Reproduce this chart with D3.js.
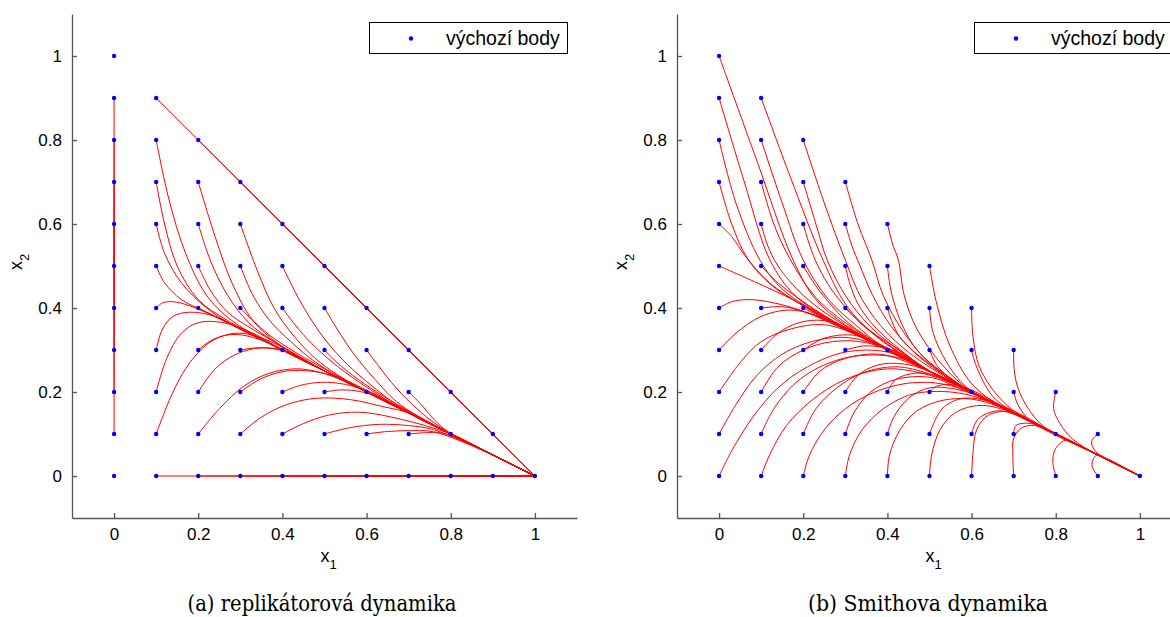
<!DOCTYPE html>
<html>
<head>
<meta charset="utf-8">
<script src="https://cdn.jsdelivr.net/npm/d3@7"></script>
<style>
  body { margin: 0; background: #fff; }
  svg { display: block; }
</style>
</head>
<body>
<div class="chart"></div>
<script>
// tick values and labels (both axes, both panels)
const tickValues = [0, 0.2, 0.4, 0.6, 0.8, 1];
const tickLabels = ["0", "0.2", "0.4", "0.6", "0.8", "1"];
const legendLabel = "výchozí body";
const captions = ["(a) replikátorová dynamika", "(b) Smithova dynamika"];

// common path the trajectories run into (x1, x2)
const replicatorPath = [[0.3,0.35],[0.4,0.3],[0.5,0.25],[0.6,0.2],[0.7,0.15],[0.8,0.1],[0.9,0.05],[1,0]];
const smithPath = [[0.2,0.4],[0.3,0.35],[0.4,0.3],[0.5,0.25],[0.6,0.2],[0.7,0.15],[0.8,0.1],[0.9,0.05],[1,0]];

// replicator dynamics: trajectories along the simplex edges
const replicatorEdges = [
  [[0,0]], [[0,1]], [[1,0]], [[0,0.5]],
  [[0,0.1],[0,0.5]], [[0,0.2],[0,0.5]], [[0,0.3],[0,0.5]], [[0,0.4],[0,0.5]],
  [[0,0.6],[0,0.5]], [[0,0.7],[0,0.5]], [[0,0.8],[0,0.5]], [[0,0.9],[0,0.5]],
  [[0.1,0],[1,0]], [[0.2,0],[1,0]], [[0.3,0],[1,0]], [[0.4,0],[1,0]], [[0.5,0],[1,0]],
  [[0.6,0],[1,0]], [[0.7,0],[1,0]], [[0.8,0],[1,0]], [[0.9,0],[1,0]],
  [[0.1,0.9],[1,0]], [[0.2,0.8],[1,0]], [[0.3,0.7],[1,0]], [[0.4,0.6],[1,0]], [[0.5,0.5],[1,0]],
  [[0.6,0.4],[1,0]], [[0.7,0.3],[1,0]], [[0.8,0.2],[1,0]], [[0.9,0.1],[1,0]]
];

// replicator dynamics: interior trajectories (start point first)
const replicatorCurves = [
  [[0.1,0.8],[0.13,0.66],[0.17,0.53],[0.22,0.43],[0.28,0.37]],
  [[0.1,0.7],[0.12,0.6],[0.15,0.5],[0.2,0.42],[0.27,0.37]],
  [[0.1,0.6],[0.12,0.53],[0.16,0.46],[0.22,0.4],[0.28,0.36]],
  [[0.1,0.5],[0.12,0.46],[0.16,0.42],[0.22,0.39],[0.29,0.355]],
  [[0.1,0.4],[0.115,0.412],[0.14,0.415],[0.18,0.405],[0.25,0.375]],
  [[0.1,0.3],[0.115,0.35],[0.14,0.38],[0.18,0.39],[0.24,0.38],[0.3,0.35]],
  [[0.1,0.2],[0.125,0.28],[0.16,0.34],[0.2,0.365],[0.26,0.365],[0.33,0.34]],
  [[0.1,0.1],[0.14,0.2],[0.18,0.27],[0.23,0.32],[0.29,0.34],[0.36,0.325]],
  [[0.2,0.7],[0.24,0.57],[0.28,0.46],[0.33,0.37],[0.39,0.315]],
  [[0.2,0.6],[0.23,0.51],[0.27,0.43],[0.32,0.365],[0.38,0.32]],
  [[0.2,0.5],[0.23,0.44],[0.27,0.39],[0.32,0.355],[0.38,0.32]],
  [[0.2,0.4],[0.3,0.35]],
  [[0.2,0.3],[0.235,0.325],[0.28,0.337],[0.33,0.33],[0.4,0.302]],
  [[0.2,0.2],[0.24,0.255],[0.29,0.29],[0.35,0.305],[0.42,0.292]],
  [[0.2,0.1],[0.25,0.16],[0.31,0.215],[0.37,0.245],[0.44,0.255],[0.52,0.237]],
  [[0.3,0.6],[0.34,0.49],[0.38,0.4],[0.43,0.33],[0.49,0.27]],
  [[0.3,0.5],[0.33,0.43],[0.37,0.37],[0.42,0.32],[0.48,0.27]],
  [[0.3,0.4],[0.33,0.37],[0.37,0.335],[0.43,0.295],[0.5,0.255]],
  [[0.3,0.3],[0.34,0.305],[0.4,0.3]],
  [[0.3,0.2],[0.35,0.232],[0.41,0.25],[0.48,0.248],[0.55,0.228]],
  [[0.3,0.1],[0.35,0.14],[0.41,0.17],[0.48,0.185],[0.56,0.182],[0.64,0.165]],
  [[0.4,0.5],[0.44,0.42],[0.49,0.34],[0.54,0.28],[0.6,0.225]],
  [[0.4,0.4],[0.43,0.36],[0.47,0.315],[0.52,0.27],[0.58,0.225]],
  [[0.4,0.3],[0.5,0.25]],
  [[0.4,0.2],[0.44,0.215],[0.49,0.223],[0.55,0.218],[0.62,0.195]],
  [[0.4,0.1],[0.45,0.125],[0.51,0.145],[0.58,0.152],[0.66,0.14]],
  [[0.5,0.4],[0.53,0.35],[0.57,0.29],[0.62,0.23],[0.68,0.17]],
  [[0.5,0.3],[0.53,0.27],[0.58,0.23],[0.64,0.19],[0.7,0.155]],
  [[0.5,0.2],[0.54,0.205],[0.59,0.2],[0.65,0.178]],
  [[0.5,0.1],[0.56,0.115],[0.63,0.123],[0.7,0.12],[0.76,0.11]],
  [[0.6,0.3],[0.63,0.26],[0.67,0.21],[0.72,0.16],[0.77,0.12]],
  [[0.6,0.2],[0.7,0.15]],
  [[0.6,0.1],[0.65,0.106],[0.71,0.108],[0.76,0.105]],
  [[0.7,0.2],[0.73,0.17],[0.76,0.135],[0.8,0.1]],
  [[0.7,0.1],[0.74,0.103],[0.78,0.102]],
  [[0.8,0.1],[0.9,0.05]]
];

// Smith dynamics: trajectories (start point first)
const smithCurves = [
  [[0,1],[0.09,0.75],[0.176,0.514],[0.23,0.42],[0.3,0.36]],
  [[0,0.9],[0.06,0.7],[0.121,0.514],[0.18,0.43],[0.26,0.375]],
  [[0,0.8],[0.04,0.65],[0.097,0.514],[0.15,0.445],[0.23,0.39]],
  [[0,0.7],[0.03,0.6],[0.07,0.514],[0.13,0.45],[0.21,0.4]],
  [[0,0.6],[0.03,0.57],[0.065,0.52],[0.12,0.46],[0.2,0.405]],
  [[0,0.5],[0.09,0.46],[0.177,0.419],[0.25,0.38]],
  [[0,0.4],[0.03,0.415],[0.074,0.42],[0.14,0.41],[0.22,0.385]],
  [[0,0.3],[0.04,0.34],[0.1,0.38],[0.17,0.395],[0.25,0.375]],
  [[0,0.2],[0.05,0.27],[0.1,0.32],[0.17,0.35],[0.25,0.36],[0.33,0.335]],
  [[0,0.1],[0.04,0.17],[0.09,0.24],[0.15,0.29],[0.22,0.32],[0.3,0.33],[0.38,0.31]],
  [[0,0],[0.03,0.06],[0.08,0.14],[0.14,0.21],[0.21,0.26],[0.3,0.295],[0.4,0.295]],
  [[0.1,0.9],[0.17,0.71],[0.247,0.514],[0.3,0.41],[0.36,0.345]],
  [[0.1,0.8],[0.15,0.65],[0.2,0.514],[0.26,0.42],[0.33,0.355]],
  [[0.1,0.7],[0.13,0.6],[0.17,0.514],[0.23,0.425],[0.3,0.365]],
  [[0.1,0.6],[0.115,0.55],[0.14,0.5],[0.2,0.43],[0.28,0.37]],
  [[0.1,0.5],[0.14,0.46],[0.2,0.415],[0.27,0.37]],
  [[0.1,0.4],[0.15,0.403],[0.2,0.392],[0.27,0.362]],
  [[0.1,0.3],[0.14,0.34],[0.19,0.365],[0.25,0.37],[0.32,0.345]],
  [[0.1,0.2],[0.14,0.26],[0.2,0.3],[0.27,0.32],[0.36,0.315]],
  [[0.1,0.1],[0.13,0.16],[0.18,0.22],[0.24,0.26],[0.32,0.285],[0.42,0.283]],
  [[0.1,0],[0.12,0.05],[0.16,0.12],[0.22,0.18],[0.3,0.23],[0.4,0.255],[0.5,0.24]],
  [[0.2,0.8],[0.25,0.65],[0.3,0.514],[0.34,0.42],[0.4,0.34],[0.47,0.28]],
  [[0.2,0.7],[0.23,0.6],[0.257,0.514],[0.3,0.43],[0.36,0.355],[0.44,0.29]],
  [[0.2,0.6],[0.215,0.55],[0.235,0.5],[0.27,0.44],[0.33,0.37],[0.41,0.305]],
  [[0.2,0.5],[0.225,0.46],[0.256,0.419],[0.31,0.362],[0.38,0.315]],
  [[0.2,0.4],[0.3,0.35]],
  [[0.2,0.3],[0.25,0.328],[0.32,0.335],[0.4,0.305]],
  [[0.2,0.2],[0.24,0.25],[0.3,0.28],[0.38,0.29],[0.45,0.27]],
  [[0.2,0.1],[0.23,0.16],[0.28,0.21],[0.34,0.245],[0.42,0.26],[0.5,0.243]],
  [[0.2,0],[0.215,0.05],[0.25,0.11],[0.3,0.16],[0.37,0.2],[0.46,0.222],[0.55,0.215]],
  [[0.3,0.7],[0.33,0.6],[0.363,0.514],[0.39,0.43],[0.44,0.34],[0.51,0.26]],
  [[0.3,0.6],[0.315,0.55],[0.335,0.5],[0.365,0.43],[0.41,0.355],[0.48,0.28]],
  [[0.3,0.5],[0.31,0.46],[0.33,0.41],[0.37,0.355],[0.44,0.293]],
  [[0.3,0.4],[0.32,0.38],[0.35,0.352],[0.42,0.305]],
  [[0.3,0.3],[0.35,0.31],[0.42,0.297]],
  [[0.3,0.2],[0.33,0.24],[0.38,0.265],[0.45,0.265],[0.52,0.24]],
  [[0.3,0.1],[0.32,0.15],[0.36,0.2],[0.42,0.23],[0.5,0.235],[0.57,0.21]],
  [[0.3,0],[0.31,0.05],[0.34,0.11],[0.39,0.16],[0.46,0.195],[0.55,0.2],[0.62,0.185]],
  [[0.4,0.6],[0.413,0.55],[0.426,0.514],[0.44,0.43],[0.47,0.35],[0.53,0.265]],
  [[0.4,0.5],[0.405,0.46],[0.414,0.419],[0.435,0.36],[0.47,0.3],[0.54,0.24]],
  [[0.4,0.4],[0.41,0.37],[0.43,0.33],[0.47,0.29],[0.54,0.24]],
  [[0.4,0.3],[0.5,0.25]],
  [[0.4,0.2],[0.42,0.23],[0.47,0.245],[0.53,0.235],[0.6,0.2]],
  [[0.4,0.1],[0.415,0.14],[0.45,0.185],[0.5,0.21],[0.57,0.205],[0.63,0.185]],
  [[0.4,0],[0.405,0.05],[0.43,0.11],[0.47,0.155],[0.53,0.18],[0.6,0.183],[0.67,0.163]],
  [[0.5,0.5],[0.516,0.415],[0.548,0.311],[0.6,0.22],[0.67,0.165]],
  [[0.5,0.4],[0.508,0.343],[0.54,0.272],[0.59,0.21]],
  [[0.5,0.3],[0.52,0.26],[0.56,0.225],[0.61,0.195]],
  [[0.5,0.2],[0.52,0.215],[0.57,0.215],[0.63,0.19]],
  [[0.5,0.1],[0.53,0.16],[0.58,0.185],[0.65,0.175],[0.72,0.145]],
  [[0.5,0],[0.505,0.05],[0.525,0.11],[0.56,0.15],[0.62,0.168],[0.7,0.15]],
  [[0.6,0.4],[0.603,0.336],[0.62,0.257],[0.675,0.177],[0.76,0.118]],
  [[0.6,0.3],[0.61,0.265],[0.65,0.19],[0.72,0.14]],
  [[0.6,0.2],[0.7,0.15]],
  [[0.6,0.1],[0.615,0.135],[0.66,0.155],[0.72,0.14]],
  [[0.6,0],[0.603,0.05],[0.612,0.11],[0.64,0.145],[0.69,0.153],[0.75,0.127]],
  [[0.7,0.3],[0.701,0.256],[0.71,0.21],[0.735,0.16],[0.775,0.115]],
  [[0.7,0.2],[0.71,0.17],[0.74,0.13],[0.79,0.105]],
  [[0.7,0.1],[0.705,0.12],[0.74,0.125],[0.79,0.105]],
  [[0.7,0],[0.698,0.05],[0.7,0.09],[0.72,0.115],[0.75,0.12],[0.8,0.1]],
  [[0.8,0.2],[0.795,0.16],[0.81,0.125],[0.84,0.088]],
  [[0.8,0.1],[0.9,0.05]],
  [[0.8,0],[0.793,0.035],[0.8,0.066],[0.826,0.086],[0.86,0.07]],
  [[0.9,0.1],[0.885,0.082],[0.895,0.058],[0.92,0.042]],
  [[0.9,0],[0.886,0.025],[0.895,0.048],[0.92,0.042]],
  [[1,0]]
];

const width = 1170, height = 617;

const svg = d3.select('.chart').append('svg')
    .attr('width', width)
    .attr('height', height);

svg.append('rect').attr('width', width).attr('height', height).attr('fill', 'white');

// join a trajectory onto the common path once it has reached it
function withTail(curve, path) {
    if (curve.length < 2) return curve;
    const last = curve[curve.length - 1];
    return curve.concat(path.filter(p => p[0] > last[0] + 0.05));
}

const panels = [
    {left: 72, curves: replicatorCurves.map(c => withTail(c, replicatorPath)), edges: replicatorEdges,
     caption: captions[0], captionX: 322, captionLen: 269, starts: replicatorCurves.concat(replicatorEdges)},
    {left: 677, curves: smithCurves.map(c => withTail(c, smithPath)), edges: [],
     caption: captions[1], captionX: 928, captionLen: 240, starts: smithCurves}
];

panels.forEach(p => {
    const xScale = d3.scaleLinear().domain([-0.1, 1.1]).range([p.left, p.left + 505]);
    const yScale = d3.scaleLinear().domain([-0.1, 1.1]).range([518, 14]);

    const g = svg.append('g');

    const line = d3.line()
        .x(d => xScale(d[0]))
        .y(d => yScale(d[1]))
        .curve(d3.curveCatmullRom.alpha(0.5));

    g.selectAll('path.edge')
        .data(p.edges.filter(c => c.length > 1))
        .enter()
        .append('path')
        .attr('class', 'edge')
        .attr('d', d3.line().x(d => xScale(d[0])).y(d => yScale(d[1])))
        .attr('fill', 'none')
        .attr('stroke', '#ff0000')
        .attr('stroke-width', 1);

    g.selectAll('path.traj')
        .data(p.curves)
        .enter()
        .append('path')
        .attr('class', 'traj')
        .attr('d', line)
        .attr('fill', 'none')
        .attr('stroke', '#ff0000')
        .attr('stroke-width', 1);

    g.selectAll('circle')
        .data(p.starts)
        .enter()
        .append('circle')
        .attr('cx', d => xScale(d[0][0]))
        .attr('cy', d => yScale(d[0][1]))
        .attr('r', 2.2)
        .attr('fill', '#0000ff');

    const xAxis = d3.axisBottom(xScale)
        .tickValues(tickValues)
        .tickFormat((d, i) => tickLabels[i])
        .tickSizeInner(-5)
        .tickSizeOuter(0)
        .tickPadding(10);

    const yAxis = d3.axisLeft(yScale)
        .tickValues(tickValues)
        .tickFormat((d, i) => tickLabels[i])
        .tickSizeInner(-5)
        .tickSizeOuter(0)
        .tickPadding(10);

    const gx = g.append('g')
        .attr('class', 'axis x-axis')
        .attr('transform', 'translate(0,518)')
        .call(xAxis);

    const gy = g.append('g')
        .attr('class', 'axis y-axis')
        .attr('transform', `translate(${p.left},0)`)
        .call(yAxis);

    [gx, gy].forEach(a => {
        a.selectAll('path, line').attr('stroke', '#555').attr('stroke-width', 1.3);
        a.selectAll('text')
            .attr('font-family', 'Liberation Sans, Arial, sans-serif')
            .attr('font-size', '17px')
            .attr('fill', 'black');
    });

    // axis titles with subscripts
    const xl = g.append('text')
        .attr('x', xScale(0.5) - 4)
        .attr('y', 562)
        .attr('font-family', 'Liberation Sans, Arial, sans-serif')
        .attr('font-size', '18px');
    xl.append('tspan').text('x');
    xl.append('tspan').attr('font-size', '13px').attr('dy', 7).text('1');

    const yl = g.append('text')
        .attr('transform', `translate(${p.left - 50},${yScale(0.5) + 4}) rotate(-90)`)
        .attr('font-family', 'Liberation Sans, Arial, sans-serif')
        .attr('font-size', '18px');
    yl.append('tspan').text('x');
    yl.append('tspan').attr('font-size', '13px').attr('dy', 7).text('2');

    // legend
    const lx = p.left + 297;
    g.append('rect')
        .attr('x', lx + 0.5).attr('y', 22.5)
        .attr('width', 198).attr('height', 31)
        .attr('fill', 'white')
        .attr('stroke', 'black')
        .attr('stroke-width', 1);
    g.append('circle')
        .attr('cx', lx + 42).attr('cy', 38.5).attr('r', 2.2)
        .attr('fill', '#0000ff');
    g.append('text')
        .attr('x', lx + 77).attr('y', 45)
        .attr('font-family', 'Liberation Sans, Arial, sans-serif')
        .attr('font-size', '19.5px')
        .text(legendLabel);

    // caption
    g.append('text')
        .attr('x', p.captionX)
        .attr('y', 611)
        .attr('text-anchor', 'middle')
        .attr('font-family', 'DejaVu Serif, serif')
        .attr('font-size', '22px')
        .attr('textLength', p.captionLen)
        .attr('lengthAdjust', 'spacingAndGlyphs')
        .text(p.caption);
});
</script>
</body>
</html>
